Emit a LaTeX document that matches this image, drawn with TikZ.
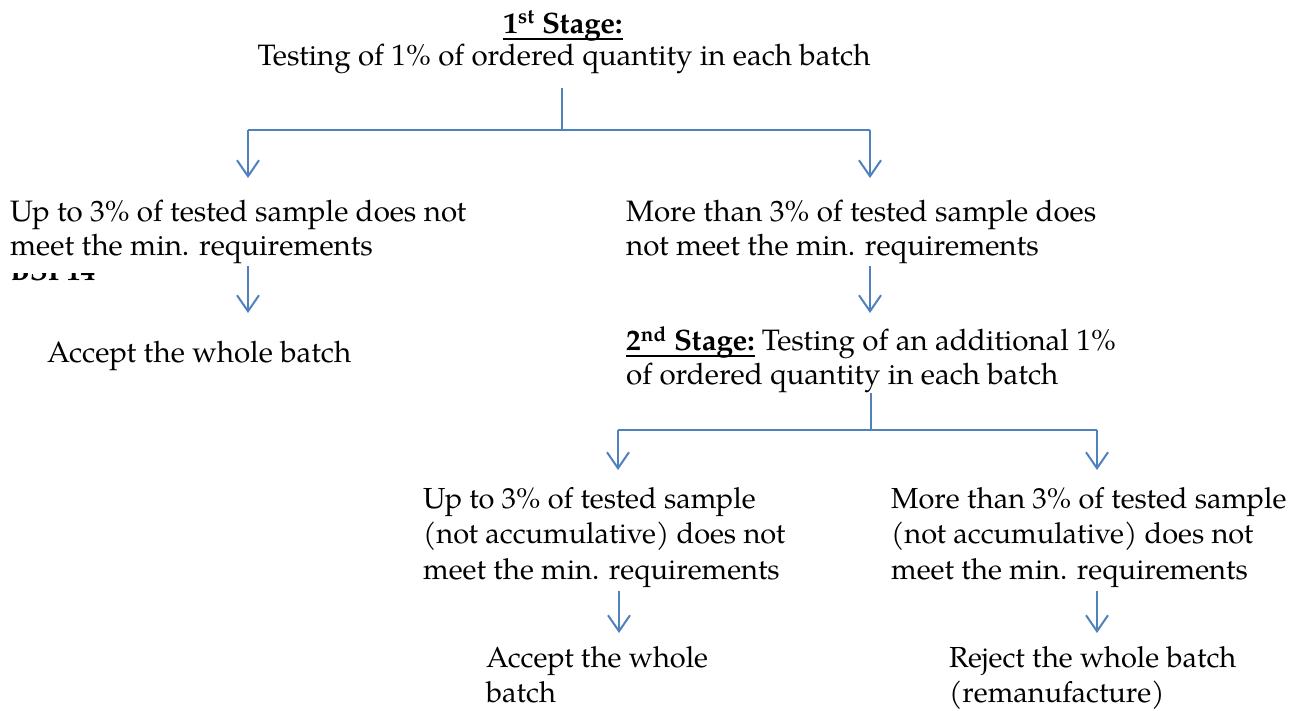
\documentclass[tikz,border=0pt]{standalone}
\usepackage{fontspec}
\setmainfont{TeX Gyre Pagella}
\usetikzlibrary{arrows.meta}
\definecolor{lineblue}{RGB}{79,129,189}
\newcommand{\ulx}[1]{\setbox0\hbox{#1}\rlap{\rule[-6.5pt]{\wd0}{1.6pt}}\box0\relax}
\begin{document}
\begin{tikzpicture}[x=1pt,y=-1pt,
  txt/.style={inner sep=0pt, align=left, font=\fontsize{29.5}{34}\selectfont},
  txtb/.style={inner sep=0pt, align=left, font=\fontsize{29}{35.5}\selectfont},
  txtc/.style={inner sep=0pt, align=left, font=\fontsize{29}{35}\selectfont},
  link/.style={draw=lineblue, line width=2pt},
  arr/.style={link, -{Straight Barb[length=16pt,width=22pt,line width=2pt]}}]
\useasboundingbox (0,0) rectangle (1311,710);
% stage 1
\node[txt, anchor=base] (s1) at (563,33) {\ulx{\textbf{1\textsuperscript{st} Stage:}}};
\node[txt, anchor=base] (t1) at (564,65) {Testing of 1\% of ordered quantity in each batch};
\node[txt, anchor=north west] (u1) at (10,200) {Up to 3\% of tested sample does not\\meet the min. requirements};
\node[txt, anchor=north west] (m1) at (626,200) {More than 3\% of tested sample does\\not meet the min. requirements};
\begin{scope}
\clip (0,273) rectangle (200,300);
\node[txt, anchor=base west] (bsp) at (10,280) {\textbf{BSP14}};
\end{scope}
\node[txt, anchor=base west] (acc1) at (47,362) {Accept the whole batch};
\node[txt, anchor=north west] (s2) at (626,326) {\ulx{\textbf{2\textsuperscript{nd} Stage:}}\ Testing of an additional 1\%\\of ordered quantity in each batch};
\node[txtb, anchor=north west] (u2) at (423,487) {Up to 3\% of tested sample\\(not accumulative) does not\\meet the min. requirements};
\node[txtb, anchor=north west] (m2) at (891,487) {More than 3\% of tested sample\\(not accumulative) does not\\meet the min. requirements};
\node[txtc, anchor=north west] (acc2) at (486,646) {Accept the whole\\batch};
\node[txtc, anchor=north west] (rej) at (949,646) {Reject the whole batch\\(remanufacture)};
% connectors stage 1
\coordinate (j1) at (562,130);
\coordinate (jl) at (248,130);
\coordinate (jr) at (870,130);
\coordinate (el) at (248,178);
\coordinate (er) at (870,178);
\draw[link] (562,88) -- (j1);
\draw[link] (jl) -- (jr);
\draw[arr] (jl) -- (el);
\draw[arr] (jr) -- (er);
\coordinate (ul1) at (248,266);
\coordinate (ul2) at (248,313);
\draw[arr] (ul1) -- (ul2);
\coordinate (mr1) at (870,266);
\coordinate (mr2) at (870,313);
\draw[arr] (mr1) -- (mr2);
% stage 2
\coordinate (j2) at (871,393);
\coordinate (j2m) at (871,430);
\coordinate (kl) at (618,430);
\coordinate (kr) at (1097,430);
\coordinate (fl) at (618,470);
\coordinate (fr) at (1097,470);
\draw[link] (j2) -- (j2m);
\draw[link] (kl) -- (kr);
\draw[arr] (kl) -- (fl);
\draw[arr] (kr) -- (fr);
\coordinate (gl1) at (619,591);
\coordinate (gl2) at (619,633);
\draw[arr] (gl1) -- (gl2);
\coordinate (gr1) at (1097,591);
\coordinate (gr2) at (1097,633);
\draw[arr] (gr1) -- (gr2);
\end{tikzpicture}
\end{document}
